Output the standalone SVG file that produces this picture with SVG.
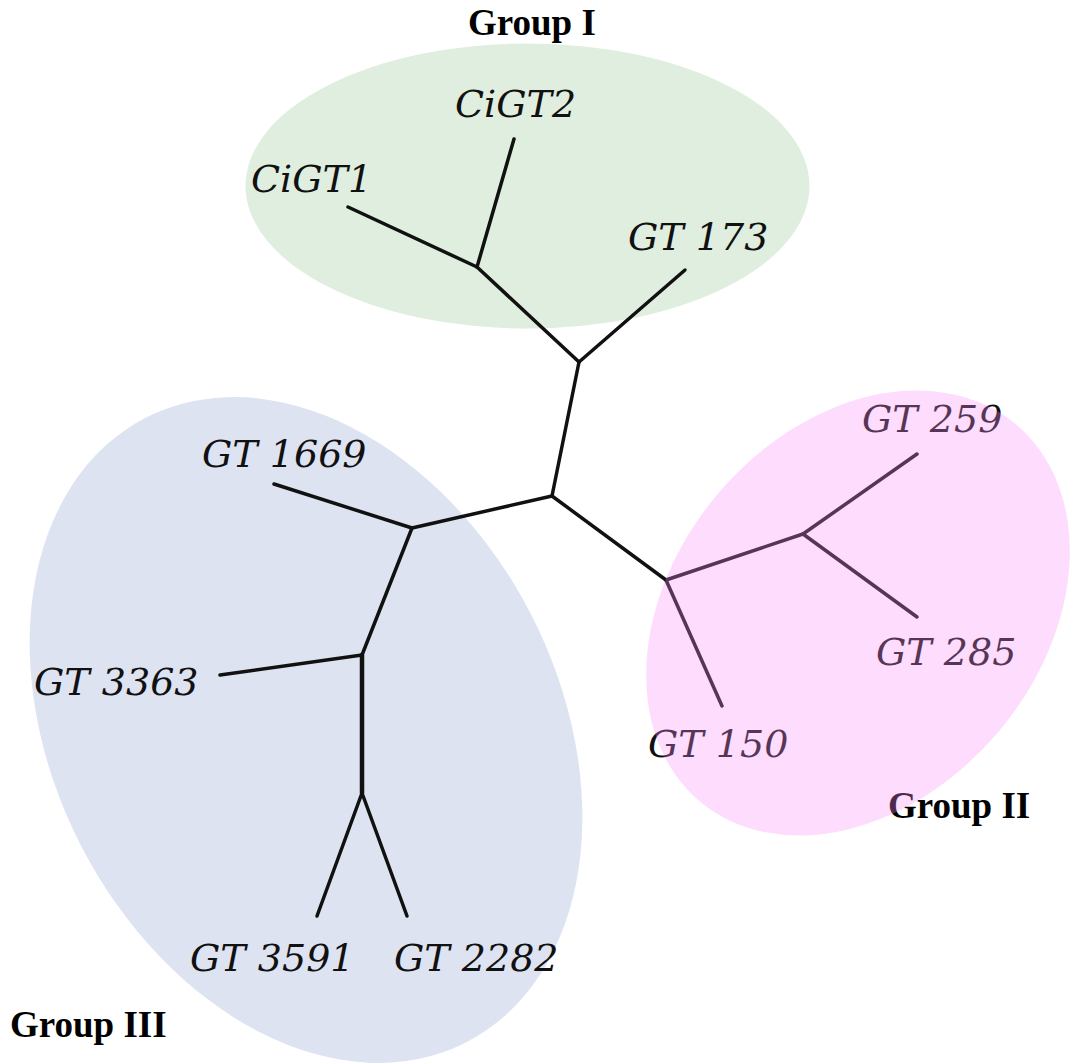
<svg xmlns="http://www.w3.org/2000/svg" width="1073" height="1064" viewBox="0 0 1073 1064">
<style>
.leaf{font-family:"DejaVu Serif","Liberation Serif",serif;font-style:italic;font-size:38px;fill:#111}
.grp{font-family:"Liberation Serif","Times New Roman",serif;font-weight:bold;font-size:37px;fill:#000}
.edge{stroke:#111;stroke-width:3.5;stroke-linecap:round;fill:none}
</style>
<rect width="1073" height="1064" fill="#ffffff"/>
<g id="area-group-I"><ellipse cx="527.5" cy="186" rx="282" ry="142.5" fill="#e0eedf"/></g>
<g id="area-group-III"><ellipse cx="306" cy="730" rx="351" ry="253" fill="#dee3f2" transform="rotate(62.8 306 730)"/></g>
<g id="connectors">
<line class="edge" x1="348" y1="207" x2="477" y2="267"/>
<line class="edge" x1="514" y1="139" x2="477" y2="267"/>
<line class="edge" x1="477" y1="267" x2="579" y2="362"/>
<line class="edge" x1="685" y1="270" x2="579" y2="362"/>
<line class="edge" x1="579" y1="362" x2="552" y2="496"/>
<line class="edge" x1="552" y1="496" x2="412" y2="528"/>
<line class="edge" x1="552" y1="496" x2="666" y2="580"/>
<line class="edge" x1="666" y1="580" x2="803" y2="534"/>
<line class="edge" x1="803" y1="534" x2="917" y2="454"/>
<line class="edge" x1="803" y1="534" x2="917" y2="617"/>
<line class="edge" x1="666" y1="580" x2="722" y2="706"/>
<line class="edge" x1="412" y1="528" x2="274" y2="484"/>
<line class="edge" x1="412" y1="528" x2="362" y2="655"/>
<line class="edge" x1="362" y1="655" x2="220" y2="675"/>
<line class="edge" x1="362" y1="655" x2="362" y2="793" style="stroke-width:4.5"/>
<line class="edge" x1="362" y1="793" x2="317" y2="916"/>
<line class="edge" x1="362" y1="793" x2="407" y2="916"/>
</g>
<g id="leaf-CiGT1"><text class="leaf" x="251" y="192">CiGT1</text></g>
<g id="leaf-CiGT2"><text class="leaf" x="455" y="117">CiGT2</text></g>
<g id="leaf-GT173"><text class="leaf" x="628" y="250">GT 173</text></g>
<g id="leaf-GT259"><text class="leaf" x="862" y="432">GT 259</text></g>
<g id="leaf-GT285"><text class="leaf" x="876" y="665">GT 285</text></g>
<g id="leaf-GT150"><text class="leaf" x="648" y="757">GT 150</text></g>
<g id="leaf-GT1669"><text class="leaf" x="202" y="467">GT 1669</text></g>
<g id="leaf-GT3363"><text class="leaf" x="34" y="695">GT 3363</text></g>
<g id="leaf-GT3591"><text class="leaf" x="190" y="971">GT 3591</text></g>
<g id="leaf-GT2282"><text class="leaf" x="394" y="971">GT 2282</text></g>
<g id="label-group-I"><text class="grp" x="468" y="35">Group I</text></g>
<g id="label-group-II"><text class="grp" x="888" y="818">Group II</text></g>
<g id="label-group-III"><text class="grp" x="10" y="1037">Group III</text></g>
<g id="area-group-II"><ellipse cx="858" cy="613" rx="246" ry="184" fill="#fa8cf8" fill-opacity="0.3" transform="rotate(-50 858 613)"/></g>
</svg>
